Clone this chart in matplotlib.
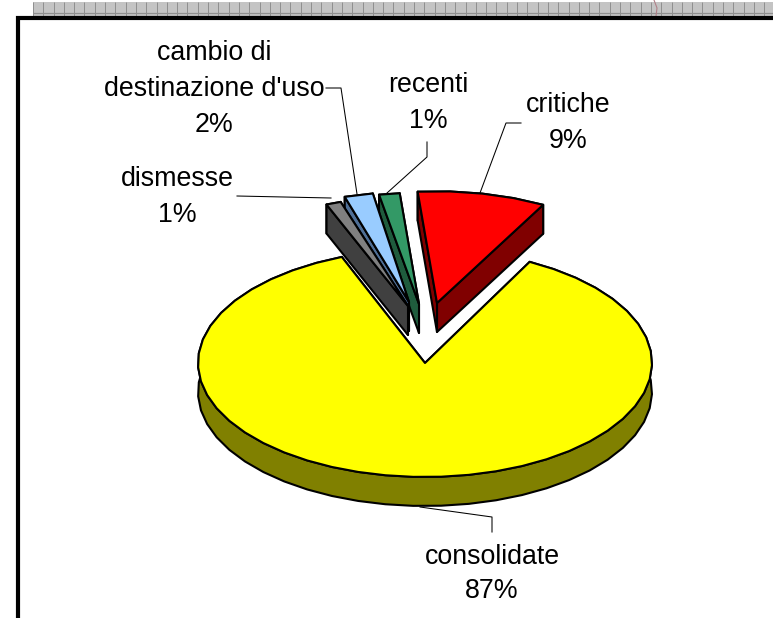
import numpy as np
import matplotlib
matplotlib.use("Agg")
import matplotlib.pyplot as plt

plt.rcParams["font.family"] = ["Liberation Sans", "DejaVu Sans"]

# values
names = ["consolidate", "critiche", "recenti", "cambio di\ndestinazione d'uso", "dismesse"]
percent_labels = ["87%", "9%", "1%", "2%", "1%"]
# share of the circle each slice really covers in the picture (%)
shares = [86.4, 9.3, 1.5, 2.1, 1.1]

# styling / layout, one entry per slice
face_colors = ["#ffff00", "#ff0000", "#339966", "#99ccff", "#808080"]
wall_colors = ["#808000", "#800000", "#1f5c3d", "#4f6f96", "#404040"]
start_deg = [111.5, 61.5, 95.0, 99.5, 108.0]
apex_x = [425, 437, 419, 409, 408]
apex_y = [363, 303, 304, 302, 306]
radius_scale = [1.0, 0.98, 0.975, 0.965, 0.96]
text_x = [492, 568, 428, 214, 177]
name_y = [556.5, 105.5, 85.5, 53.5, 178.5]
pct_y = [591.5, 141.5, 121.5, 125.5, 214.5]
draw_order = [0, 1, 2, 3, 4]

# leader lines, label end -> slice
leaders = [
    ([420, 492, 492], [507, 517, 532]),
    ([521, 506, 480], [123, 123, 193]),
    ([427, 427, 387], [142, 157, 193]),
    ([326, 341, 357], [88, 88, 194]),
    ([237, 331], [196, 198]),
]

RX, RY = 227, 114
DEPTH = 29
EDGE_LW = 1.5

fig = plt.figure(figsize=(7.73, 6.18), dpi=100)
ax = fig.add_axes([0, 0, 1, 1])
ax.set_xlim(0, 773)
ax.set_ylim(618, 0)
ax.axis("off")

# grey sheet grid behind the chart frame
ax.fill_between([33, 773], 2, 16, color="#c4c4c4", lw=0, zorder=1)
ax.vlines(np.arange(33, 773, 10.3), 2, 16, color="#8f8f8f", lw=0.7, zorder=1)
ax.hlines(12.6, 33, 773, color="#8f8f8f", lw=0.9, zorder=1)
ax.plot([654, 657, 656], [0, 8, 16], color="#b08088", lw=0.8, zorder=1)

# chart frame, only top and left are in the crop
ax.plot([17.5, 17.5, 773], [618, 18, 18], color="black", lw=3, solid_joinstyle="miter", zorder=2)


def slice_outline(i):
    sweep = shares[i] * 3.6
    # coarse steps, the original outline is bumpy
    n = max(2, int(sweep / 7) + 1)
    t = np.radians(start_deg[i] + np.linspace(0, sweep, n))
    r = radius_scale[i]
    return apex_x[i] + r * RX * np.cos(t), apex_y[i] - r * RY * np.sin(t)


for z, i in enumerate(draw_order):
    x, y = slice_outline(i)
    base = 10 + z * 3

    # walls first, the top face covers whatever should be hidden
    ax.fill(np.r_[x, x[::-1]], np.r_[y, y[::-1] + DEPTH], fc=wall_colors[i], ec="black",
            lw=EDGE_LW, joinstyle="round", zorder=base)
    for ex, ey in [(x[0], y[0]), (x[-1], y[-1])]:
        ax.fill([ex, apex_x[i], apex_x[i], ex],
                [ey, apex_y[i], apex_y[i] + DEPTH, ey + DEPTH],
                fc=wall_colors[i], ec="black", lw=EDGE_LW, joinstyle="round", zorder=base + 1)

    ax.fill(np.r_[apex_x[i], x], np.r_[apex_y[i], y], fc=face_colors[i], ec="black",
            lw=EDGE_LW, joinstyle="round", zorder=base + 2)

for lx, ly in leaders:
    ax.plot(lx, ly, color="black", lw=0.75, zorder=40)

for i in range(len(names)):
    if "\n" in names[i]:
        # two line label, keep the 36 px line pitch of the other labels
        first, second = names[i].split("\n")
        ax.text(text_x[i], name_y[i], first, ha="center", va="center", fontsize=19.3, zorder=50)
        ax.text(text_x[i], name_y[i] + 36, second, ha="center", va="center", fontsize=19.3, zorder=50)
    else:
        ax.text(text_x[i], name_y[i], names[i], ha="center", va="center", fontsize=19.3, zorder=50)
    ax.text(text_x[i], pct_y[i], percent_labels[i], ha="center", va="center", fontsize=19.3, zorder=50)

fig.savefig("out.png", dpi=100)
plt.close(fig)
